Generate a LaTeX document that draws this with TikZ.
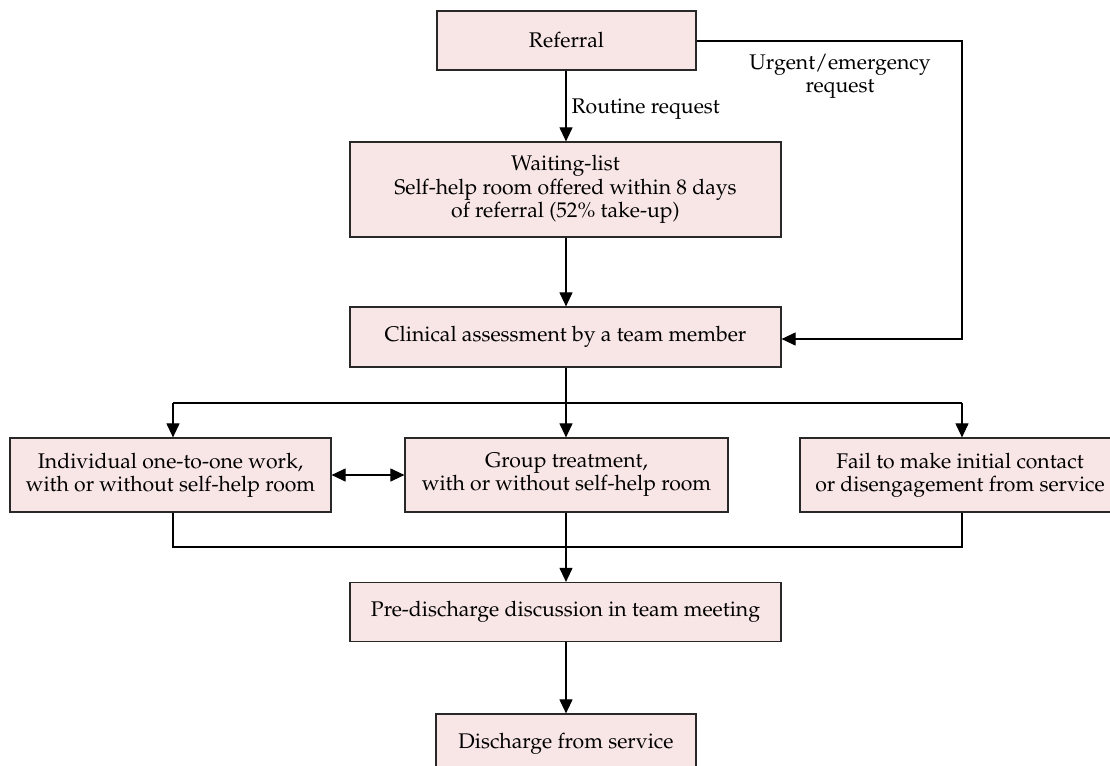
\documentclass[tikz,border=0pt]{standalone}
\usepackage[T1]{fontenc}
\usepackage{mathpazo}
\usetikzlibrary{arrows.meta}
\definecolor{boxfill}{RGB}{248,229,229}
\definecolor{boxline}{RGB}{40,40,40}
\tikzset{
  flowbox/.style={draw=boxline, line width=0.6pt, fill=boxfill, align=center, inner sep=0pt,
    font=\fontsize{10.6}{11.6}\selectfont},
  conn/.style={line width=0.55pt, -{Triangle[length=7pt,width=6.5pt]}},
  plainline/.style={line width=0.55pt},
  lbl/.style={font=\fontsize{10.6}{11.6}\selectfont, align=center, inner sep=0pt}
}
\begin{document}
\begin{tikzpicture}[x=0.5pt,y=-0.5pt]
\useasboundingbox (0,0) rectangle (1110,766);
% boxes
\node[flowbox, minimum width=129.5pt, minimum height=29.5pt] (ref) at (566.5,40.5) {Referral};
\node[flowbox, minimum width=215.5pt, minimum height=47.5pt] (wait) at (565.5,189.5)
  {Waiting-list\\Self-help room offered within 8 days\\of referral (52\% take-up)};
\node[flowbox, minimum width=215.5pt, minimum height=30pt] (clin) at (565.5,337)
  {Clinical assessment by a team member};
\node[flowbox, minimum width=160.5pt, minimum height=37pt] (ind) at (170.5,475)
  {Individual one-to-one work,\\with or without self-help room};
\node[flowbox, minimum width=161.5pt, minimum height=37pt] (grp) at (566.5,475)
  {Group treatment,\\with or without self-help room};
\node[flowbox, minimum width=160pt, minimum height=37pt] (fail) at (960,475)
  {Fail to make initial contact\\or disengagement from service};
\node[flowbox, minimum width=215.5pt, minimum height=29.5pt] (pre) at (565.5,612)
  {Pre-discharge discussion in team meeting};
\node[flowbox, minimum width=130pt, minimum height=30pt] (dis) at (566,744)
  {Discharge from service};
% coordinates
\coordinate (urgR) at (962,41);
\coordinate (urgB) at (962,339);
\coordinate (splitC) at (566,403);
\coordinate (splitL) at (173,403);
\coordinate (splitR) at (962,403);
\coordinate (joinC) at (566,547);
\coordinate (joinL) at (173,547);
\coordinate (joinR) at (962,547);
% connectors
\draw[conn] (ref.south -| 566,0) -- node[lbl, anchor=west, xshift=2.5pt, yshift=-1.5pt] {Routine request} (wait.north -| 566,0);
\draw[conn] (wait.south -| 566,0) -- (clin.north -| 566,0);
\draw[conn] (ref.east |- urgR) -- (urgR) -- (urgB) -- (clin.east |- urgB);
\node[lbl] (urglbl) at (840,76) {Urgent/emergency\\request};
\draw[plainline] (clin.south -| splitC) -- (splitC);
\draw[plainline] (splitL) -- (splitR);
\draw[conn] (splitL) -- (ind.north -| splitL);
\draw[conn] (splitC) -- (grp.north -| splitC);
\draw[conn] (splitR) -- (fail.north -| splitR);
\draw[line width=0.55pt, {Triangle[length=7pt,width=6.5pt]}-{Triangle[length=7pt,width=6.5pt]}] (ind.east) -- (grp.west);
\draw[plainline] (ind.south -| joinL) -- (joinL) -- (joinR) -- (fail.south -| joinR);
\draw[conn] (grp.south -| joinC) -- (pre.north -| joinC);
\draw[conn] (pre.south -| 566,0) -- (dis.north -| 566,0);
\end{tikzpicture}
\end{document}
